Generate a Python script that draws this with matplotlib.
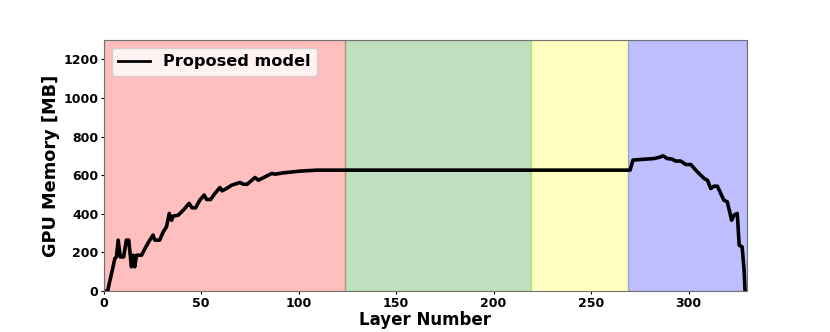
import numpy as np
import matplotlib
matplotlib.use("Agg")
import matplotlib.pyplot as plt
from matplotlib.lines import Line2D

# vertices of the memory curve (layer index, GPU memory in MB)
layers = [0, 2, 3, 4, 5.7, 6.5, 7.4, 8.5, 10.2, 11.6, 12.8, 14.2, 15.1, 15.9,
          16.8, 19.4, 21.6, 23.6, 25.3, 26.2, 28.7, 30.5, 32.2, 33.6, 34.8,
          35.6, 38.2, 39.9, 41.6, 43.8, 45.3, 47.1, 49.3, 51.5, 52.8, 54.8,
          57, 59.6, 60.7, 63, 65.6, 69.9, 71.6, 73.6, 77.6, 79.3, 82.7, 86.2,
          87.9, 92.1, 100.7, 109.3, 116.1, 124, 270, 271.5, 275.4, 282.3,
          284.8, 287, 289, 291.6, 293.4, 296, 298.6, 301.2, 303.7, 305.4,
          308, 309.7, 311.4, 313.1, 314.8, 318.1, 319.9, 322.1, 323.3, 325,
          326, 327.5, 328.5, 329]
memory = [0, 0, 48, 91, 169, 178, 264, 177, 177, 264, 264, 126, 186, 126,
          186, 186, 229, 264, 290, 264, 264, 307, 333, 402, 367, 388, 393,
          410, 428, 454, 431, 431, 471, 497, 474, 474, 505, 536, 519, 531,
          548, 562, 553, 553, 588, 574, 591, 609, 605, 612, 621, 626, 626,
          626, 626, 678, 681, 686, 692, 700, 686, 683, 673, 673, 655, 655,
          626, 609, 583, 574, 531, 543, 543, 471, 462, 367, 393, 402, 238,
          229, 110, 0]

# shaded layer ranges
spans = [(0, 124), (124, 219), (219, 269), (269, 330)]
span_colors = ["red", "green", "yellow", "blue"]

fig = plt.figure(figsize=(8.3, 3.32), dpi=100)
ax = fig.add_subplot(111)
fig.subplots_adjust(left=0.125, right=0.9, bottom=0.123, top=0.88)

for (a, b), c in zip(spans, span_colors):
    ax.axvspan(a, b, color=c, alpha=0.25)

ax.plot(layers, memory, color="black", linewidth=2.6)

ax.set_xlim(0, 330)
ax.set_ylim(0, 1300)
ax.set_xticks([0, 50, 100, 150, 200, 250, 300])
ax.set_yticks([0, 200, 400, 600, 800, 1000, 1200])
ax.set_xlabel("Layer Number", fontsize=12, fontweight="bold", labelpad=1)
ax.set_ylabel("GPU Memory [MB]", fontsize=12.8, fontweight="bold", labelpad=2)
ax.tick_params(length=2.5, pad=1.5)
for lab in ax.get_xticklabels() + ax.get_yticklabels():
    lab.set_fontweight("bold")
    lab.set_fontsize(9)
for s in ax.spines.values():
    s.set_color("0.45")

handle = Line2D([], [], color="black", linewidth=2)
ax.legend([handle], ["Proposed model"], loc="upper left",
          prop={"weight": "bold", "size": 11.6})

plt.savefig("out.png", dpi=100)
